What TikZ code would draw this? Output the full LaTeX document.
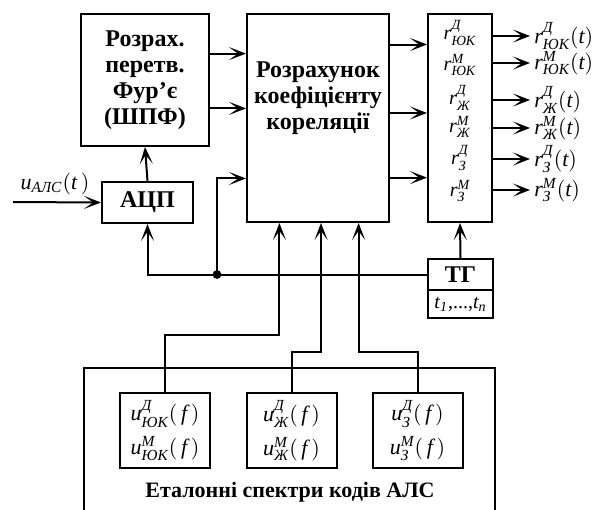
\documentclass[tikz,border=0pt]{standalone}
\usepackage{amsmath}
\usepackage{fontspec}
\setmainfont{Liberation Serif}
\usetikzlibrary{arrows.meta, calc}
\newcommand{\ci}[1]{\text{\itshape #1}}
\tikzstyle{block} = [rectangle, 
draw=black, 
line width=1pt, 
inner sep=0pt, 
align=center, 
font=\fontsize{12}{13}\selectfont\bfseries]
\tikzstyle{ublock} = [block, 
minimum width=45pt, 
minimum height=37.5pt, 
font=\fontsize{11}{13}\selectfont]
\tikzstyle{rlabel} = [inner sep=0pt, font=\fontsize{10}{12}\selectfont]
\tikzstyle{olabel} = [inner sep=0pt, anchor=west, font=\fontsize{11}{13}\selectfont]
\tikzstyle{arrow} = [line width=1pt, -{Stealth[length=8.5pt, width=6.5pt, inset=4.5pt]}]

\begin{document}
\begin{tikzpicture}[x=0.5pt, y=-0.5pt]
\useasboundingbox (0,0) rectangle (600,509);
\clip (0,0) rectangle (600,509);

\node (fft) [block, minimum width=64pt, minimum height=66pt] at (145,80) {Розрах.\\перетв.\\Фур'є\\(ШПФ)};
\node (adc) [block, minimum width=45.5pt, minimum height=20.5pt] at (147.5,202.5) {АЦП};
\node (main) [block, minimum width=71pt, minimum height=104pt] at (318,118) {Розрахунок\\коефіцієнту\\кореляції\\[9pt]};
\node (rbox) [block, minimum width=32pt, minimum height=104pt] at (460,118) {};
\node (tg) [block, minimum width=32.5pt, minimum height=15.5pt] at (460.5,274.5) {ТГ};
\node (tgt) [block, minimum width=32.5pt, minimum height=14pt, font=\fontsize{10}{12}\selectfont] at (460.5,304) {$\ci{t}_{\ci{1}}\text{,...,}\ci{t}_{\ci{n}}$};

% correlation values
\node (r1) [rlabel] at (460,33) {$\ci{r}^{\ci{Д}}_{\ci{ЮК}}$};
\node (r2) [rlabel] at (460,65) {$\ci{r}^{\ci{М}}_{\ci{ЮК}}$};
\node (r3) [rlabel] at (460,98) {$\ci{r}^{\ci{Д}}_{\ci{Ж}}$};
\node (r4) [rlabel] at (460,127) {$\ci{r}^{\ci{М}}_{\ci{Ж}}$};
\node (r5) [rlabel] at (460,158) {$\ci{r}^{\ci{Д}}_{\ci{З}}$};
\node (r6) [rlabel] at (460,191) {$\ci{r}^{\ci{М}}_{\ci{З}}$};

\node (o1) [olabel] at (534,36) {$\ci{r}^{\ci{Д}}_{\ci{ЮК}}(\ci{t})$};
\node (o2) [olabel] at (534,63) {$\ci{r}^{\ci{М}}_{\ci{ЮК}}(\ci{t})$};
\node (o3) [olabel] at (534,100) {$\ci{r}^{\ci{Д}}_{\ci{Ж}}(\ci{t})$};
\node (o4) [olabel] at (534,128) {$\ci{r}^{\ci{М}}_{\ci{Ж}}(\ci{t})$};
\node (o5) [olabel] at (534,159) {$\ci{r}^{\ci{Д}}_{\ci{З}}(\ci{t})$};
\node (o6) [olabel] at (534,190) {$\ci{r}^{\ci{М}}_{\ci{З}}(\ci{t})$};

\foreach \o in {o1,o2,o3,o4,o5,o6}
  \draw [arrow, shorten >=2pt] (rbox.east |- \o) -- (\o.west);

% input
\coordinate (uin) at (13,202);
\node (ulabel) [rlabel, font=\fontsize{11}{13}\selectfont] at (55,184) {$\ci{u}_{\ci{АЛС}}(\ci{t}\,)$};
\draw [arrow] (uin) -- (adc.west);
\draw [arrow] (adc.north) -- (fft.south);

\draw [arrow] ($(fft.north east)!0.303!(fft.south east)$) coordinate (f1) -- (f1 -| main.west);
\draw [arrow] ($(fft.north east)!0.712!(fft.south east)$) coordinate (f2) -- (f2 -| main.west);

\foreach \f in {0.15,0.476,0.784}
  \draw [arrow] ($(main.north east)!\f!(main.south east)$) -- ($(rbox.north west)!\f!(rbox.south west)$);

% clock
\coordinate (j) at (217,274.5);
\coordinate (m4) at ($(main.north west)!0.788!(main.south west)$);
\draw [arrow] (tg.west) -| (adc.south);
\draw [arrow] (j) |- (m4);
\fill (j) circle (2.2pt);
\draw [arrow] (tg.north) -- (rbox.south);

% reference spectra
\node (etalon) [block, minimum width=205.5pt, minimum height=76pt] at (289.5,444) {};
\node (etlabel) [rlabel, font=\fontsize{11}{13}\selectfont\bfseries] at (290,492) {Еталонні спектри кодів АЛС};
\node (s1) [ublock] at (165,430.5) {$\ci{u}^{\ci{Д}}_{\ci{ЮК}}(\,\ci{f}\,)$\\[4pt]$\ci{u}^{\ci{М}}_{\ci{ЮК}}(\,\ci{f}\,)$};
\node (s2) [ublock] at (291.5,430.5) {$\ci{u}^{\ci{Д}}_{\ci{Ж}}(\,\ci{f}\,)$\\[4pt]$\ci{u}^{\ci{М}}_{\ci{Ж}}(\,\ci{f}\,)$};
\node (s3) [ublock] at (417.5,430.5) {$\ci{u}^{\ci{Д}}_{\ci{З}}(\,\ci{f}\,)$\\[4pt]$\ci{u}^{\ci{М}}_{\ci{З}}(\,\ci{f}\,)$};

\coordinate (m1) at ($(main.south west)!0.232!(main.south east)$);
\coordinate (m2) at ($(main.south west)!0.521!(main.south east)$);
\coordinate (m3) at ($(main.south west)!0.782!(main.south east)$);
\draw [arrow] (s1.north) -- ++(0,-57) -| (m1);
\draw [arrow] (s2.north) -- ++(0,-40) -| (m2);
\draw [arrow] (s3.north) -- ++(0,-40) -| (m3);

\end{tikzpicture}
\end{document}
